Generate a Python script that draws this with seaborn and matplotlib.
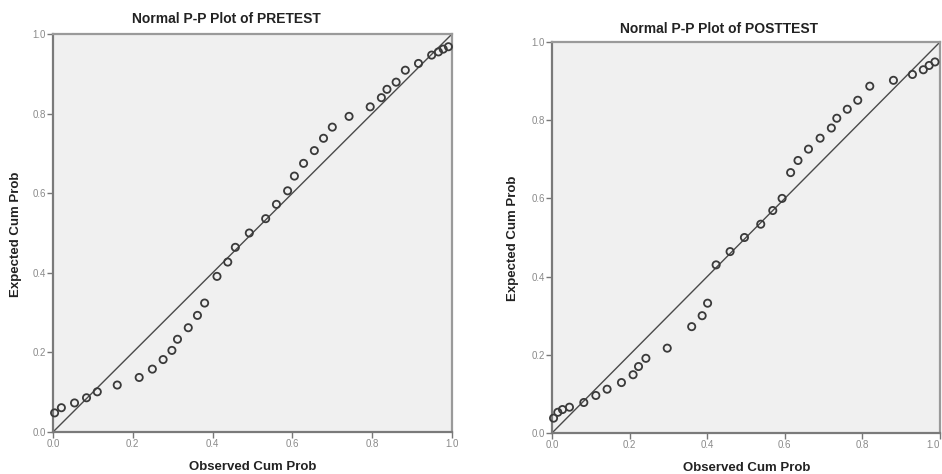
import matplotlib
matplotlib.use("Agg")
import matplotlib.pyplot as plt
import seaborn as sns
import pandas as pd

# ---- data ----
pre_observed = [0.004, 0.021, 0.054, 0.084, 0.111, 0.161, 0.216, 0.249, 0.276, 0.298,
                0.312, 0.339, 0.362, 0.380, 0.411, 0.438, 0.457, 0.492, 0.533, 0.560,
                0.588, 0.605, 0.628, 0.655, 0.678, 0.700, 0.742, 0.795, 0.823, 0.837,
                0.860, 0.883, 0.916, 0.949, 0.966, 0.978, 0.991]
pre_expected = [0.048, 0.061, 0.073, 0.086, 0.101, 0.118, 0.137, 0.158, 0.182, 0.205,
                0.233, 0.262, 0.293, 0.324, 0.391, 0.427, 0.464, 0.500, 0.536, 0.572,
                0.606, 0.643, 0.675, 0.707, 0.738, 0.766, 0.793, 0.817, 0.840, 0.861,
                0.879, 0.909, 0.926, 0.947, 0.955, 0.962, 0.968]

post_observed = [0.004, 0.015, 0.027, 0.045, 0.082, 0.113, 0.142, 0.179, 0.209, 0.223,
                 0.242, 0.297, 0.360, 0.387, 0.401, 0.423, 0.459, 0.496, 0.538, 0.569,
                 0.593, 0.615, 0.634, 0.661, 0.691, 0.720, 0.734, 0.761, 0.788, 0.819,
                 0.880, 0.929, 0.957, 0.972, 0.987]
post_expected = [0.038, 0.053, 0.060, 0.066, 0.078, 0.096, 0.112, 0.129, 0.149, 0.170,
                 0.191, 0.217, 0.272, 0.300, 0.332, 0.430, 0.464, 0.500, 0.534, 0.569,
                 0.600, 0.666, 0.697, 0.726, 0.754, 0.780, 0.805, 0.828, 0.851, 0.887,
                 0.902, 0.917, 0.929, 0.940, 0.949]

reference_line = [0.0, 1.0]
tick_values = [0.0, 0.2, 0.4, 0.6, 0.8, 1.0]
tick_labels = ["0.0", "0.2", "0.4", "0.6", "0.8", "1.0"]
titles = ["Normal P-P Plot of PRETEST", "Normal P-P Plot of POSTTEST"]
x_label = "Observed Cum Prob"
y_label = "Expected Cum Prob"

sns.set_theme(style="white")
plt.rcParams['font.family'] = ['Liberation Sans', 'DejaVu Sans']

fig = plt.figure(figsize=(9.42, 4.74), dpi=100)
W, H = 942.0, 474.0

# axes boxes in pixels: left, right, top, bottom
boxes = [(53, 452, 34, 432), (552, 940, 42, 433)]
title_pos = [(226, 19), (719, 29)]
xlabel_pos = [(253, 467), (747, 468)]
ylabel_pos = [(16, 234), (513, 238)]
datasets = [(pre_observed, pre_expected), (post_observed, post_expected)]

for i in range(2):
    l, r, t, b = boxes[i]
    ax = fig.add_axes([l / W, (H - b) / H, (r - l) / W, (b - t) / H])
    ax.set_facecolor("#f0f0f0")
    obs, exp = datasets[i]
    df = pd.DataFrame({"obs": obs, "exp": exp})
    line_df = pd.DataFrame({"x": reference_line, "y": reference_line})
    sns.lineplot(data=line_df, x="x", y="y", ax=ax, color="#4a4a4a", linewidth=1.0)
    sns.scatterplot(data=df, x="obs", y="exp", ax=ax, marker="o", s=27,
                    facecolor="none", edgecolor="#3a3a3a", linewidth=1.3,
                    clip_on=False, zorder=3)
    ax.set_xlim(0, 1)
    ax.set_ylim(0, 1)
    ax.set_xticks(tick_values)
    ax.set_xticklabels(tick_labels)
    ax.set_yticks(tick_values)
    ax.set_yticklabels(tick_labels)
    ax.tick_params(axis="both", which="both", direction="out", length=4, width=1,
                   color="#777777", labelsize=7, labelcolor="#8a8a8a", pad=1,
                   bottom=True, left=True)
    if i == 1:
        ax.get_xticklabels()[-1].set_horizontalalignment("right")
    for name, sp in ax.spines.items():
        sp.set_visible(True)
        sp.set_color("#9a9a9a" if name in ("top", "right") else "#7a7a7a")
        sp.set_linewidth(1.6)
    ax.set_xlabel("")
    ax.set_ylabel("")
    tx, ty = title_pos[i]
    fig.text(tx / W, 1 - ty / H, titles[i], ha="center", va="center",
             fontsize=10, fontweight="bold", color="#222222")
    xx, xy = xlabel_pos[i]
    fig.text(xx / W, 1 - xy / H, x_label, ha="center", va="center",
             fontsize=9.5, fontweight="bold", color="#222222")
    yx, yy = ylabel_pos[i]
    fig.text(yx / W, 1 - yy / H, y_label, ha="center", va="center", rotation=90,
             fontsize=9.5, fontweight="bold", color="#222222")

fig.savefig("out.png", dpi=100, facecolor="white")
